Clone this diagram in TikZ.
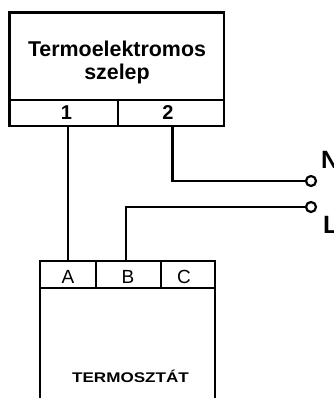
\documentclass[tikz,border=0pt]{standalone}
\usepackage{fontspec}
\setmainfont{Liberation Sans}
\begin{document}
\begin{tikzpicture}[x=1pt,y=-1pt,
  boxline/.style={draw=black,line width=2.4pt,fill=white,inner sep=0pt,outer sep=0pt,rectangle},
  wire/.style={draw=black,line width=2.2pt},
  term/.style={draw=black,fill=white,line width=2.2pt,circle,minimum size=10pt,inner sep=0pt,outer sep=0pt},
  lbl/.style={inner sep=0pt,outer sep=0pt,text=black,anchor=base},
  big/.style={lbl,font=\fontsize{21.4}{21.4}\selectfont\bfseries},
  digit/.style={lbl,font=\fontsize{20}{20}\selectfont\bfseries},
  side/.style={lbl,anchor=base west,font=\fontsize{25}{25}\selectfont\bfseries},
  pin/.style={lbl,font=\fontsize{19}{19}\selectfont}]
\useasboundingbox (0,0) rectangle (333,398);
\clip (0,0) rectangle (333,398);
\coordinate (v1) at (68,127);
\coordinate (v2) at (172.5,127);
\coordinate (ta) at (68,261);
\coordinate (tb) at (126,261);
\node[term] (n) at (311,181) {};
\node[term] (l) at (311,207) {};
\draw[boxline] (9.5,12.5) rectangle (224,126);
\draw[boxline] (9.5,100) -- (224,100);
\draw[draw=black,line width=1.6pt] (118,100) -- (118,126);
\draw[boxline] (40,261) rectangle (215,420);
\draw[boxline] (40,288) -- (215,288);
\draw[boxline] (96,261) -- (96,288);
\draw[boxline] (161,261) -- (161,288);
\draw[wire] (v1) -- (ta);
\draw[wire] (v2) |- (n);
\draw[wire] (tb) |- (l);
\node[big] (t1) at (117,56.5) {Termoelektromos};
\node[big] (t2) at (117,80) {szelep};
\node[digit] (p1) at (66.5,119.5) {1};
\node[digit] (p2) at (168,119.5) {2};
\node[side] (tn) at (321,168) {N};
\node[side] (tl) at (323,233.5) {L};
\node[pin] (a) at (68,283) {A};
\node[pin] (b) at (128,283) {B};
\node[pin] (c) at (184,283) {C};
\node[lbl,font=\fontsize{14}{14}\selectfont\bfseries] (th) at (130.5,382.5) {\scalebox{1.22}[1]{TERMOSZTÁT}};
\end{tikzpicture}
\end{document}
